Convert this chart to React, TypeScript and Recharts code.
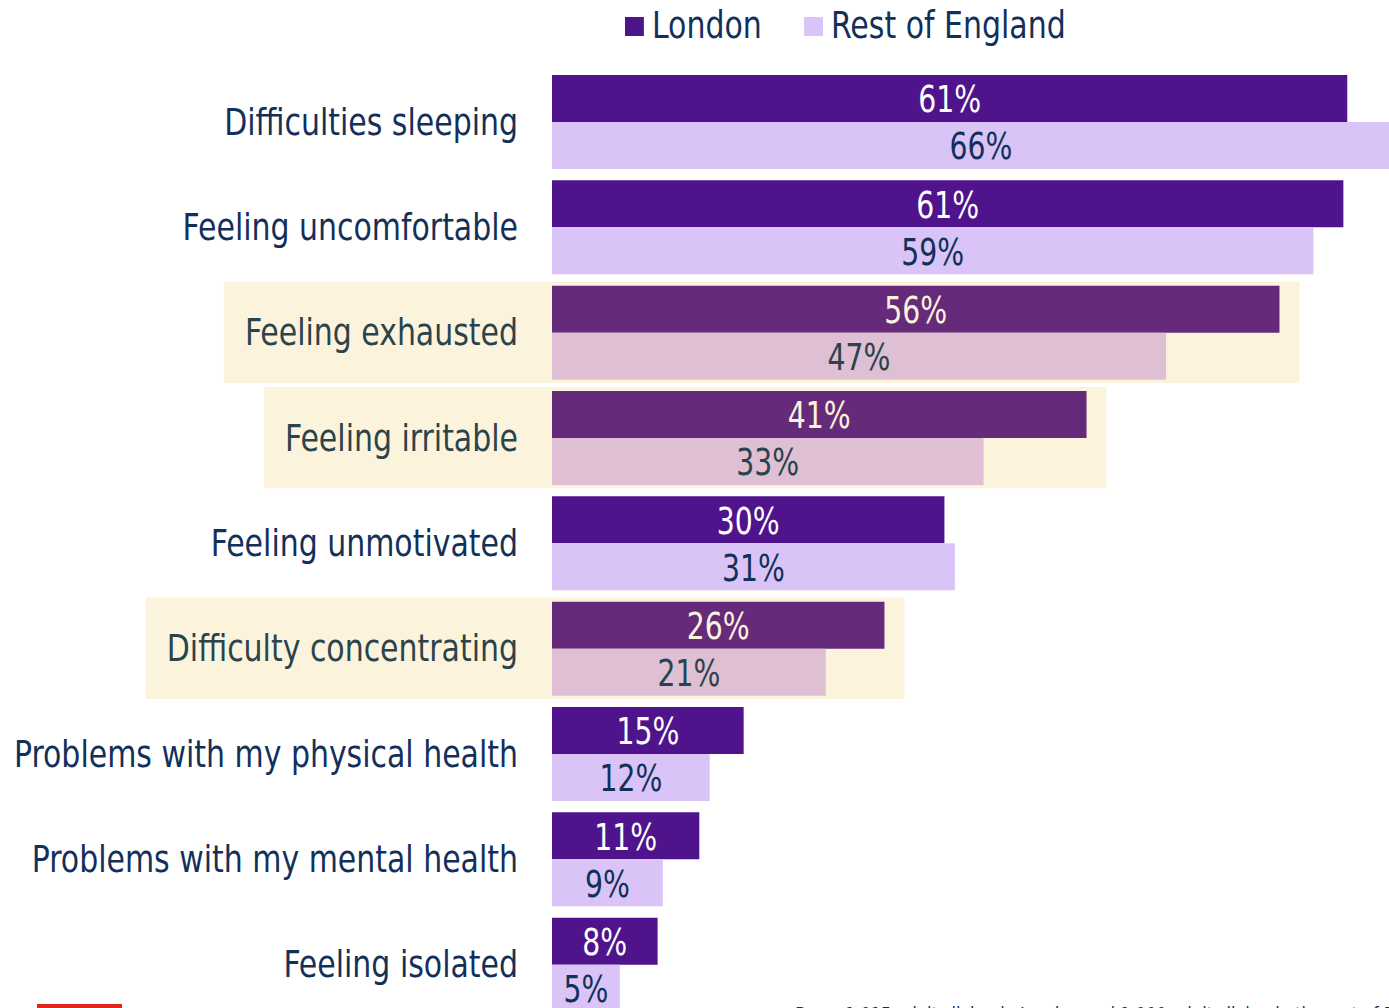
import React from "react"
import {
  Bar,
  BarChart,
  Cell,
  LabelList,
  ReferenceArea,
  XAxis,
  YAxis,
} from "recharts"

const categories = [
  "Difficulties sleeping",
  "Feeling uncomfortable",
  "Feeling exhausted",
  "Feeling irritable",
  "Feeling unmotivated",
  "Difficulty concentrating",
  "Problems with my physical health",
  "Problems with my mental health",
  "Feeling isolated",
]
// bar lengths
const london = [61, 60.7, 55.8, 41, 30.1, 25.5, 14.7, 11.3, 8.1]
const restOfEngland = [65.8, 58.4, 47.1, 33.1, 30.9, 21, 12.1, 8.5, 5.2]
// percentages printed on the bars
const londonLabels = ["61%", "61%", "56%", "41%", "30%", "26%", "15%", "11%", "8%"]
const restLabels = ["66%", "59%", "47%", "33%", "31%", "21%", "12%", "9%", "5%"]
const highlighted = [
  "Feeling exhausted",
  "Feeling irritable",
  "Difficulty concentrating",
]
const seriesNames = ["London", "Rest of England"]
const footnote =
  "Base: 1,015 adults living in London and 1,000 adults living in the rest of England"

const data = categories.map((category, i) => ({
  category,
  london: london[i],
  rest: restOfEngland[i],
}))

const FONT = "'DejaVu Sans Condensed', 'DejaVu Sans', sans-serif"
const FONT_SIZE = 37
const SQUEEZE = 0.9
const NUM_SQUEEZE = 0.85
const NAVY = "#13305a"
const SLATE = "#2b434a"
const CREAM = "#fcf3dc"
const LONDON = "#4f148c"
const LONDON_HL = "#652a7a"
const REST = "#dac4f7"
const REST_HL = "#dfbfd4"
const LABEL_RIGHT = 518

let ctx: CanvasRenderingContext2D | null = null
const measure = (text: string) => {
  if (!ctx) ctx = document.createElement("canvas").getContext("2d")
  if (!ctx) return text.length * 15
  ctx.font = `${FONT_SIZE}px ${FONT}`
  return ctx.measureText(text).width * SQUEEZE
}

const isHl = (i: number) => highlighted.includes(categories[i])

const CategoryTick = (props: any) => {
  const { x, y, payload } = props
  const hl = highlighted.includes(payload.value)
  return (
    <text
      transform={`translate(${x},${y}) scale(${SQUEEZE},1)`}
      textAnchor="end"
      dominantBaseline="central"
      fontFamily={FONT}
      fontSize={FONT_SIZE}
      fill={hl ? SLATE : NAVY}
    >
      {payload.value}
    </text>
  )
}

const makeHighlight = (label: string) => (p: any) => {
  const left = LABEL_RIGHT - measure(label) - 21
  const right = p.x + p.width + 20
  return (
    <rect
      x={left}
      y={p.y + 2}
      width={right - left}
      height={p.height - 4}
      fill={CREAM}
    />
  )
}

const barLabel = (dark: boolean, labels: string[]) => (p: any) => {
  const { x, y, width, height, index } = p
  const hl = isHl(index)
  const fill = dark ? (hl ? CREAM : "#ffffff") : hl ? SLATE : NAVY
  return (
    <text
      transform={`translate(${x + width / 2},${y + height / 2 + 1}) scale(${NUM_SQUEEZE},1)`}
      textAnchor="middle"
      dominantBaseline="central"
      fontFamily={FONT}
      fontSize={FONT_SIZE}
      fill={fill}
    >
      {labels[index]}
    </text>
  )
}

export default function App() {
  return (
    <div
      style={{
        position: "fixed",
        left: 0,
        top: 0,
        width: 1389,
        height: 1008,
        overflow: "hidden",
        background: "#ffffff",
      }}
    >
      <div
        style={{
          position: "absolute",
          top: 4,
          left: 625,
          display: "flex",
          alignItems: "center",
          fontFamily: FONT,
          fontSize: FONT_SIZE,
          color: NAVY,
          lineHeight: "44px",
          transform: `scale(${SQUEEZE},1)`,
          transformOrigin: "left center",
        }}
      >
        <span style={{ width: 21, height: 19, background: LONDON, marginRight: 9 }} />
        <span style={{ marginRight: 47 }}>{seriesNames[0]}</span>
        <span style={{ width: 21, height: 19, background: REST, marginRight: 9 }} />
        <span>{seriesNames[1]}</span>
      </div>
      <BarChart
        width={1389}
        height={1060}
        data={data}
        layout="vertical"
        margin={{ top: 69, right: 0, left: 0, bottom: 43 }}
        barCategoryGap={6}
        barGap={0}
      >
        {highlighted.map((c) => {
          const i = categories.indexOf(c)
          return (
            <ReferenceArea
              key={c}
              y1={c}
              y2={c}
              x1={0}
              x2={Math.max(london[i], restOfEngland[i])}
              ifOverflow="visible"
              shape={makeHighlight(c)}
            />
          )
        })}
        <XAxis type="number" domain={[0, 64.2]} allowDataOverflow hide />
        <YAxis
          type="category"
          dataKey="category"
          width={552}
          tickLine={false}
          axisLine={false}
          tickSize={0}
          tickMargin={34}
          interval={0}
          tick={<CategoryTick />}
        />
        <Bar dataKey="london" isAnimationActive={false}>
          {data.map((d, i) => (
            <Cell key={d.category} fill={isHl(i) ? LONDON_HL : LONDON} />
          ))}
          <LabelList dataKey="london" content={barLabel(true, londonLabels)} />
        </Bar>
        <Bar dataKey="rest" isAnimationActive={false}>
          {data.map((d, i) => (
            <Cell key={d.category} fill={isHl(i) ? REST_HL : REST} />
          ))}
          <LabelList dataKey="rest" content={barLabel(false, restLabels)} />
        </Bar>
      </BarChart>
      <div
        style={{
          position: "absolute",
          left: 37,
          top: 1004,
          width: 85,
          height: 5,
          background: "#e3261b",
        }}
      />
      <div
        style={{
          position: "absolute",
          left: 795,
          top: 1003,
          fontFamily: FONT,
          fontSize: 18,
          color: NAVY,
          whiteSpace: "nowrap",
        }}
      >
        {footnote}
      </div>
    </div>
  )
}
